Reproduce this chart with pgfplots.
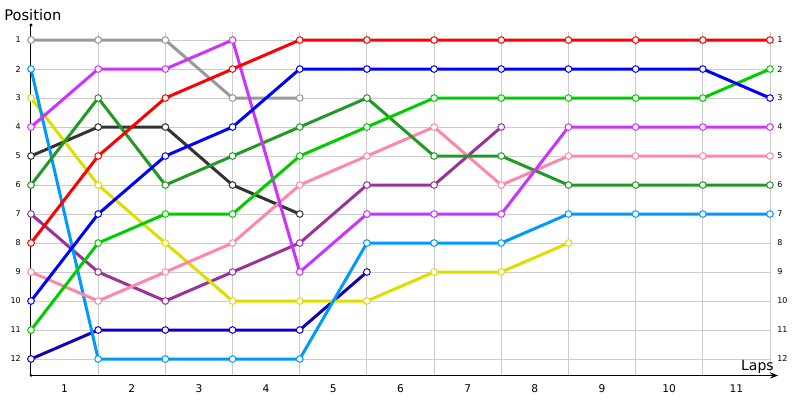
\documentclass[border=0pt]{standalone}
\usepackage{pgfplots}
\pgfplotsset{compat=1.18}
\usepackage{fontspec}
\setmainfont{DejaVu Sans}
\usetikzlibrary{arrows.meta}

\definecolor{cRed}{HTML}{FF0000}
\definecolor{cBlue}{HTML}{0000FF}
\definecolor{cGreen}{HTML}{00CC00}
\definecolor{cViolet}{HTML}{CC33FF}
\definecolor{cPink}{HTML}{FF88AA}
\definecolor{cDkGreen}{HTML}{229922}
\definecolor{cSky}{HTML}{0099FF}
\definecolor{cYellow}{HTML}{DDDD00}
\definecolor{cPurple}{HTML}{993399}
\definecolor{cNavy}{HTML}{1100BB}
\definecolor{cGray}{HTML}{999999}
\definecolor{cDkGray}{HTML}{333333}
\definecolor{gridgray}{HTML}{CCCCCC}

\pgfplotsset{
  lap/.style={color=#1, line width=2.25pt, mark=*, mark size=2.5pt,
    mark options={fill=white, draw=#1, line width=0.75pt, solid}},
}

\begin{document}
\begin{tikzpicture}[x=1pt,y=1pt]
\useasboundingbox (0,0) rectangle (600,300);
\begin{axis}[
  at={(23.25pt,18.375pt)}, anchor=south west,
  scale only axis, width=554.25pt, height=257.6pt,
  xmin=0, xmax=11, ymin=0.724, ymax=12.569,
  y dir=reverse,
  clip=false,
  axis line style={draw=none},
  xtick={0.5,1.5,...,10.5},
  xticklabels={1,2,3,4,5,6,7,8,9,10,11},
  minor xtick={0,1,...,11},
  xminorgrids=true,
  ytick={1,...,12},
  ymajorgrids=true,
  major grid style={draw=gridgray, line width=0.75pt},
  minor grid style={draw=gridgray, line width=0.75pt},
  major tick length=0pt, minor tick length=0pt,
  tick style={draw=none},
  /pgf/number format/assume math mode=true,
  yticklabel style={font=\fontsize{6}{7}\selectfont, anchor=east, inner sep=0pt, xshift=-7.5pt},
  xticklabel style={font=\fontsize{8}{9}\selectfont, anchor=north, inner sep=0pt, yshift=-6.4pt},
]
% grey
\addplot[lap=cGray] coordinates {(0,1) (1,1) (2,1) (3,3) (4,3)};
% dark grey
\addplot[lap=cDkGray] coordinates {(0,5) (1,4) (2,4) (3,6) (4,7)};
% purple
\addplot[lap=cPurple] coordinates {(0,7) (1,9) (2,10) (3,9) (4,8) (5,6) (6,6) (7,4)};
% navy
\addplot[lap=cNavy] coordinates {(0,12) (1,11) (2,11) (3,11) (4,11) (5,9)};
% yellow
\addplot[lap=cYellow] coordinates {(0,3) (1,6) (2,8) (3,10) (4,10) (5,10) (6,9) (7,9) (8,8)};
% light blue
\addplot[lap=cSky] coordinates {(0,2) (1,12) (2,12) (3,12) (4,12) (5,8) (6,8) (7,8) (8,7) (9,7) (10,7) (11,7)};
% pink
\addplot[lap=cPink] coordinates {(0,9) (1,10) (2,9) (3,8) (4,6) (5,5) (6,4) (7,6) (8,5) (9,5) (10,5) (11,5)};
% dark green
\addplot[lap=cDkGreen] coordinates {(0,6) (1,3) (2,6) (3,5) (4,4) (5,3) (6,5) (7,5) (8,6) (9,6) (10,6) (11,6)};
% violet
\addplot[lap=cViolet] coordinates {(0,4) (1,2) (2,2) (3,1) (4,9) (5,7) (6,7) (7,7) (8,4) (9,4) (10,4) (11,4)};
% green
\addplot[lap=cGreen] coordinates {(0,11) (1,8) (2,7) (3,7) (4,5) (5,4) (6,3) (7,3) (8,3) (9,3) (10,3) (11,2)};
% blue
\addplot[lap=cBlue] coordinates {(0,10) (1,7) (2,5) (3,4) (4,2) (5,2) (6,2) (7,2) (8,2) (9,2) (10,2) (11,3)};
% red
\addplot[lap=cRed] coordinates {(0,8) (1,5) (2,3) (3,2) (4,1) (5,1) (6,1) (7,1) (8,1) (9,1) (10,1) (11,1)};

% axis lines
\draw[black, line width=0.75pt] (axis cs:0,12.569) -- (axis cs:0,0.483);
\fill[black] (axis cs:0,0.483) circle (1.2pt);
\fill[black] (axis cs:0,12.569) circle (1.1pt);
\draw[black, line width=0.75pt, -{Stealth[length=6pt,width=4.5pt]}] (axis cs:0,12.569) -- (axis cs:11.12,12.569);
% right-hand position labels
\pgfplotsinvokeforeach{1,...,12}{
  \node[anchor=west, inner sep=0pt, font=\fontsize{6}{7}\selectfont, xshift=5.25pt] at (axis cs:11,#1) {#1};
}
\end{axis}
\node[anchor=base west, inner sep=0pt, font=\fontsize{11}{13}\selectfont] at (3,284.25) {Position};
\node[anchor=base east, inner sep=0pt, font=\fontsize{10.5}{12}\selectfont] at (580.5,22.5) {Laps};
\end{tikzpicture}
\end{document}
